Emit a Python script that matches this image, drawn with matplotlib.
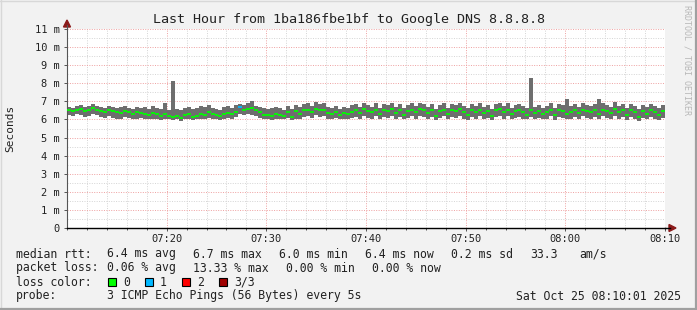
import matplotlib
matplotlib.use('Agg')
import matplotlib.pyplot as plt
from matplotlib.lines import Line2D
from matplotlib.patches import Rectangle, Polygon
from matplotlib.ticker import MultipleLocator, FixedLocator

W, H = 697, 310
DPI = 100
FONT = 'DejaVu Sans Mono'

TITLE = 'Last Hour from 1ba186fbe1bf to Google DNS 8.8.8.8'

# one column every 0.4 min, starting at 07:10; values in 1/100 ms
STEP = 0.4
MEDIAN = [
    650, 645, 655, 660, 645, 650, 665, 655, 645, 640,
    650, 645, 640, 635, 645, 640, 630, 640, 635, 630,
    625, 635, 630, 620, 630, 620, 615, 620, 610, 625,
    630, 615, 620, 630, 625, 640, 630, 625, 620, 630,
    635, 630, 640, 670, 655, 660, 665, 650, 640, 625,
    625, 620, 630, 625, 620, 640, 615, 645, 630, 650,
    655, 640, 660, 650, 655, 635, 630, 640, 625, 635,
    630, 640, 650, 635, 660, 645, 640, 655, 630, 650,
    645, 660, 635, 650, 625, 645, 655, 640, 660, 650,
    635, 650, 620, 645, 655, 630, 650, 645, 660, 640,
    625, 650, 640, 655, 635, 645, 620, 650, 660, 640,
    655, 630, 645, 650, 640, 625, 650, 635, 645, 630,
    640, 655, 625, 650, 645, 630, 640, 650, 635, 655,
    645, 640, 650, 630, 655, 645, 635, 660, 640, 650,
    625, 650, 640, 615, 645, 630, 650, 640, 625, 645,
]
LOW = [
    625, 620, 630, 625, 615, 620, 630, 625, 615, 610,
    620, 610, 605, 600, 615, 610, 600, 605, 610, 600,
    600, 605, 600, 595, 600, 600, 595, 600, 590, 600,
    605, 595, 600, 600, 605, 610, 600, 605, 595, 600,
    610, 600, 615, 630, 625, 630, 625, 620, 610, 600,
    600, 595, 605, 600, 600, 610, 595, 605, 600, 615,
    620, 610, 625, 615, 620, 605, 600, 610, 600, 605,
    600, 610, 615, 605, 620, 610, 605, 620, 600, 615,
    610, 620, 600, 615, 600, 610, 620, 605, 620, 615,
    600, 615, 595, 610, 620, 600, 615, 610, 620, 605,
    595, 615, 605, 620, 600, 610, 595, 615, 620, 605,
    620, 600, 610, 615, 605, 600, 615, 600, 610, 600,
    605, 620, 595, 615, 610, 600, 605, 615, 600, 620,
    610, 605, 615, 600, 620, 610, 600, 620, 605, 615,
    595, 615, 605, 590, 610, 600, 615, 605, 595, 610,
]
HIGH = [
    670, 665, 675, 680, 670, 675, 685, 675, 670, 665,
    675, 670, 665, 670, 675, 665, 660, 670, 665, 670,
    660, 675, 665, 660, 690, 655, 813, 660, 650, 665,
    670, 660, 665, 675, 670, 680, 665, 660, 655, 670,
    675, 665, 680, 685, 680, 690, 700, 675, 670, 665,
    660, 665, 670, 665, 655, 675, 660, 680, 670, 685,
    690, 675, 695, 685, 690, 670, 665, 675, 660, 670,
    665, 680, 685, 670, 690, 680, 670, 690, 665, 685,
    680, 690, 670, 685, 665, 680, 690, 675, 690, 685,
    670, 685, 660, 680, 690, 665, 685, 680, 690, 675,
    665, 685, 675, 690, 670, 680, 660, 685, 690, 675,
    690, 665, 680, 685, 675, 665, 830, 670, 680, 665,
    675, 690, 665, 685, 680, 713, 675, 685, 670, 690,
    680, 675, 685, 713, 690, 680, 670, 695, 675, 685,
    665, 685, 675, 660, 680, 670, 685, 675, 665, 680,
]
LOSS_EVENTS = {43: 1}

LOSS_COLORS = ['#00ff00', '#00b8ff', '#ff0000', '#a00000']
LOSS_LABELS = ['0', '1', '2', '3/3']

XTICKS = [10, 20, 30, 40, 50, 60]
XTICK_LABELS = ['07:20', '07:30', '07:40', '07:50', '08:00', '08:10']
YTICKS = list(range(12))
YTICK_LABELS = ['0'] + ['%d m' % v for v in range(1, 12)]

RTT_LINE = [('median rtt:', 16), ('6.4 ms avg', 107), ('6.7 ms max', 193),
            ('6.0 ms min', 279), ('6.4 ms now', 365), ('0.2 ms sd', 451),
            ('33.3', 530), ('am/s', 579)]
LOSS_LINE = [('packet loss:', 16), ('0.06 % avg', 107), ('13.33 % max', 193),
             ('0.00 % min', 286), ('0.00 % now', 372)]
PROBE_TEXT = '3 ICMP Echo Pings (56 Bytes) every 5s'
DATE_TEXT = 'Sat Oct 25 08:10:01 2025'


def fx(x):
    return x / W


def fy(y):
    return 1 - y / H


def main():
    fig = plt.figure(figsize=(W / DPI, H / DPI), dpi=DPI, facecolor='#f2f2f2')

    left, right, top, bottom = 67, 665, 29, 228
    ax = fig.add_axes([fx(left), fy(bottom), (right - left) / W, (bottom - top) / H])
    ax.set_facecolor('white')

    xs = [STEP / 2 + STEP * i for i in range(len(MEDIAN))]
    lo = [v / 100 for v in LOW]
    hi = [v / 100 for v in HIGH]
    med = [v / 100 for v in MEDIAN]

    ax.bar(xs, [h - l for h, l in zip(hi, lo)], bottom=lo, width=STEP,
           color='#6e6e6e', linewidth=0, antialiased=False, zorder=2)
    colors = [LOSS_COLORS[LOSS_EVENTS.get(i, 0)] for i in range(len(med))]
    ax.hlines(med, [x - STEP / 2 for x in xs], [x + STEP / 2 for x in xs],
              colors=colors, linewidth=1.3, zorder=3)

    ax.set_xlim(0, 60)
    ax.set_ylim(0, 11)
    ax.xaxis.set_major_locator(FixedLocator(XTICKS))
    ax.set_xticklabels(XTICK_LABELS)
    ax.xaxis.set_minor_locator(MultipleLocator(2))
    ax.yaxis.set_major_locator(FixedLocator(YTICKS))
    ax.set_yticklabels(YTICK_LABELS)
    ax.yaxis.set_minor_locator(MultipleLocator(0.5))

    ax.set_axisbelow(True)
    ax.grid(which='minor', color='#d4d4d4', linestyle=(0, (1, 1.5)), linewidth=0.7)
    ax.grid(which='major', color='#eea0a0', linestyle=(0, (1, 1.5)), linewidth=0.7)

    for s in ('top', 'right'):
        ax.spines[s].set_visible(False)
    ax.spines['left'].set_color('#555555')
    ax.spines['left'].set_linewidth(0.8)
    ax.spines['bottom'].set_color('black')
    ax.spines['bottom'].set_linewidth(1.0)

    ax.tick_params(axis='both', which='both', direction='out', colors='#555555',
                   labelcolor='#222222', labelsize=7.5, width=0.7)
    ax.tick_params(axis='x', which='major', length=2.5, pad=2)
    ax.tick_params(axis='x', which='minor', length=1.5)
    ax.tick_params(axis='y', which='major', length=2.5, pad=2.5)
    ax.tick_params(axis='y', which='minor', length=0)
    for lab in ax.get_xticklabels() + ax.get_yticklabels():
        lab.set_family(FONT)

    # axis arrows
    fig.add_artist(Line2D([fx(left), fx(left)], [fy(top), fy(25)], color='#555555', lw=0.8))
    fig.add_artist(Polygon([(fx(left - 3.5), fy(27)), (fx(left + 3.5), fy(27)), (fx(left), fy(20))],
                           closed=True, color='#8b1a1a'))
    fig.add_artist(Line2D([fx(right), fx(670)], [fy(bottom), fy(bottom)], color='black', lw=1.0))
    fig.add_artist(Polygon([(fx(669), fy(bottom - 3.5)), (fx(669), fy(bottom + 3.5)), (fx(676), fy(bottom))],
                           closed=True, color='#8b1a1a'))

    fig.text(fx(349), fy(19), TITLE, family=FONT, fontsize=9.6, color='#222222',
             ha='center', va='center')
    fig.text(fx(10), fy(128), 'Seconds', family=FONT, fontsize=8, color='#222222',
             rotation=90, ha='center', va='center')
    fig.text(fx(687), fy(60), 'RRDTOOL / TOBI OETIKER', family=FONT, fontsize=6,
             color='#b8b8b8', rotation=-90, ha='center', va='center')

    legend_size = 8.3
    for text, x in RTT_LINE:
        fig.text(fx(x), fy(254), text, family=FONT, fontsize=legend_size,
                 color='#222222', ha='left', va='center')
    for text, x in LOSS_LINE:
        fig.text(fx(x), fy(268), text, family=FONT, fontsize=legend_size,
                 color='#222222', ha='left', va='center')
    fig.text(fx(16), fy(282), 'loss color:', family=FONT, fontsize=legend_size,
             color='#222222', ha='left', va='center')
    for k, (c, lab) in enumerate(zip(LOSS_COLORS, LOSS_LABELS)):
        x0 = 108 + 37 * k
        fig.add_artist(Rectangle((fx(x0), fy(286)), 8 / W, 8 / H, facecolor=c,
                                 edgecolor='black', linewidth=0.8))
        fig.text(fx(x0 + 15), fy(282), lab, family=FONT, fontsize=legend_size,
                 color='#222222', ha='left', va='center')
    fig.text(fx(16), fy(296), 'probe:', family=FONT, fontsize=legend_size,
             color='#222222', ha='left', va='center')
    fig.text(fx(107), fy(296), PROBE_TEXT, family=FONT, fontsize=legend_size,
             color='#222222', ha='left', va='center')
    fig.text(fx(681), fy(296), DATE_TEXT, family=FONT, fontsize=legend_size,
             color='#222222', ha='right', va='center')

    # image frame
    fig.add_artist(Line2D([0, 1], [fy(0.5), fy(0.5)], color='#d8d8d8', lw=1.0))
    fig.add_artist(Line2D([fx(0.5), fx(0.5)], [0, 1], color='#d8d8d8', lw=1.0))
    fig.add_artist(Line2D([0, 1], [fy(308.5), fy(308.5)], color='#a0a0a0', lw=1.6))
    fig.add_artist(Line2D([fx(695.5), fx(695.5)], [0, 1], color='#a0a0a0', lw=1.6))

    fig.savefig('out.png', dpi=DPI, facecolor=fig.get_facecolor())


if __name__ == '__main__':
    main()
